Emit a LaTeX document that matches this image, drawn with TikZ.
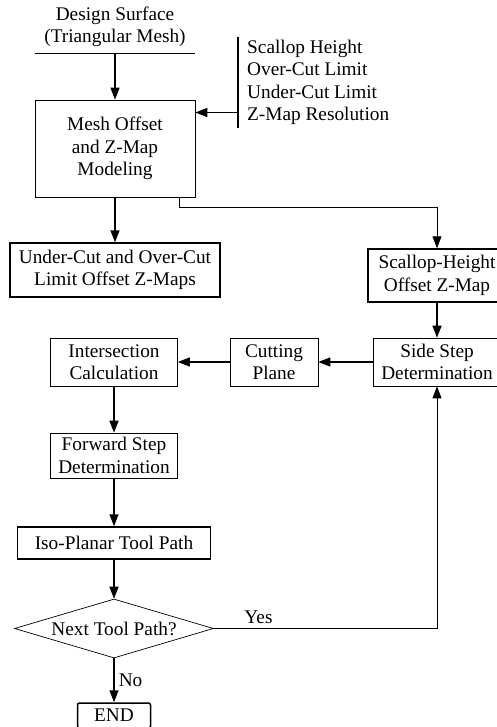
\documentclass[tikz,border=0pt]{standalone}
\usepackage{fontspec}
\setmainfont{Liberation Serif}
\usetikzlibrary{arrows.meta,shapes.geometric}

\begin{document}
\begin{tikzpicture}[x=1pt, y=-1pt,
  font=\fontsize{19.3}{22.3}\selectfont,
  box/.style={draw, line width=0.7pt, align=center, inner sep=0pt},
  bbox/.style={box, line width=1.5pt},
  dec/.style={draw, diamond, aspect=3.37, line width=0.7pt, inner sep=0pt,
              minimum width=199pt, minimum height=59pt},
  lab/.style={inner sep=4pt},
  arr/.style={-{Triangle[length=12pt,width=9pt]}, line width=1.6pt},
  tarr/.style={-{Triangle[length=12pt,width=9pt]}, line width=0.8pt}]
  \useasboundingbox (0,0) rectangle (496,727);
  \node[align=center, inner sep=0pt, minimum width=160pt, minimum height=52pt] (design) at (115,27) {Design Surface\\(Triangular Mesh)};
  \node[box, minimum width=160pt, minimum height=97pt] (mesh) at (115,148.5) {Mesh Offset\\and Z-Map\\Modeling};
  \node[align=left, anchor=west, inner sep=0pt] (params) at (247,82.5) {Scallop Height\\Over-Cut Limit\\Under-Cut Limit\\Z-Map Resolution};
  \coordinate (bartop) at (238,37);
  \coordinate (barbot) at (238,128);
  \coordinate (barin) at (238,112.5);
  \node[bbox, minimum width=210pt, minimum height=54pt] (limits) at (115,270) {Under-Cut and Over-Cut\\Limit Offset Z-Maps};
  \node[bbox, minimum width=138pt, minimum height=53pt] (scallop) at (437,275.5) {Scallop-Height\\Offset Z-Map};
  \coordinate (tap) at (179,207);
  \node[box, minimum width=127pt, minimum height=48pt] (side) at (437,362) {Side Step\\Determination};
  \node[box, minimum width=88pt, minimum height=48pt] (cutplane) at (274,362) {Cutting\\Plane};
  \node[box, minimum width=127pt, minimum height=48pt] (inter) at (114,362) {Intersection\\Calculation};
  \node[box, minimum width=127pt, minimum height=45pt] (fwd) at (114,455.5) {Forward Step\\Determination};
  \node[bbox, minimum width=193pt, minimum height=32pt] (iso) at (114,543) {Iso-Planar Tool Path};
  \node[dec] (next) at (114,628.5) {Next Tool Path?};
  \node[bbox, rounded corners=2pt, minimum width=73pt, minimum height=25pt] (endbox) at (114,715.5) {END};
  \draw[line width=0.8pt] (design.south west) -- (design.south east);
  \draw[line width=1.6pt] (bartop) -- (barbot);
  \draw[arr] (design.south) -- (mesh.north);
  \draw[arr] (barin) -- (barin -| mesh.east);
  \draw[arr] (mesh.south) -- (limits.north);
  \draw[line width=0.8pt] (mesh.south -| tap) -- (tap);
  \draw[tarr] (tap) -| (scallop.north);
  \draw[arr] (scallop.south) -- (side.north);
  \draw[arr] (side.west) -- (cutplane.east);
  \draw[arr] (cutplane.west) -- (inter.east);
  \draw[arr] (inter.south) -- (fwd.north);
  \draw[arr] (fwd.south) -- (iso.north);
  \draw[arr] (iso.south) -- (next.north);
  \draw[tarr] (next.east) -| node[lab, above, pos=0.1]{Yes} (side.south);
  \draw[arr] (next.south) -- node[lab, right]{No} (endbox.north);
\end{tikzpicture}
\end{document}
